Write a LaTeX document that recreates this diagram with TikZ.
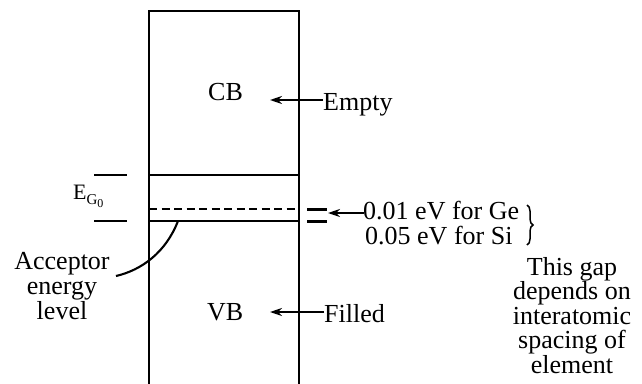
\documentclass[tikz,border=0pt]{standalone}
\usepackage{fontspec}
\setmainfont{Liberation Serif}
\usetikzlibrary{arrows.meta,decorations.pathreplacing}
\begin{document}
\begin{tikzpicture}[x=1pt,y=1pt,
  band/.style={line width=2.1pt, line cap=rect},
  edge/.style={line width=2.1pt},
  lbl/.style={inner sep=0pt, font=\fontsize{26}{24.5}\selectfont},
  arr/.style={line width=1.8pt, -{Stealth[length=12pt,width=8pt]}},
  gapmark/.style={line width=3pt},
  tick/.style={line width=2.3pt}]
\useasboundingbox (0,0) rectangle (642,-383);
% band box
\coordinate (bl) at (149,-383);
\coordinate (tl) at (149,-11);
\coordinate (tr) at (299,-11);
\coordinate (br) at (299,-383);
\draw[band] (bl) -- (tl) -- (tr) -- (br);
% band edges
\coordinate (cbl) at (149,-175); \coordinate (cbr) at (299,-175);
\coordinate (vbl) at (149,-221); \coordinate (vbr) at (299,-221);
\coordinate (acl) at (149,-209); \coordinate (acr) at (299,-209);
\draw[edge] (cbl) -- (cbr);
\draw[edge] (vbl) -- (vbr);
\draw[edge, dash pattern=on 8pt off 4.5pt] (acl) -- (acr);
% left ticks for E_G0
\coordinate (t1a) at (94,-175); \coordinate (t1b) at (127,-175);
\coordinate (t2a) at (94,-221); \coordinate (t2b) at (127,-221);
\draw[tick] (t1a) -- (t1b);
\draw[tick] (t2a) -- (t2b);
\node[inner sep=0pt, anchor=base west, font=\fontsize{22}{22}\selectfont] (eg) at (73,-199)
  {E\raisebox{-5pt}{\fontsize{15}{15}\selectfont G\raisebox{-3pt}{\fontsize{12}{12}\selectfont 0}}};
% right gap marks
\coordinate (m1a) at (307,-209); \coordinate (m1b) at (327,-209);
\coordinate (m2a) at (307,-221); \coordinate (m2b) at (327,-221);
\draw[gapmark] (m1a) -- (m1b);
\draw[gapmark] (m2a) -- (m2b);
% labels
\node[lbl, anchor=base west] (cb) at (208,-100) {CB};
\node[lbl, anchor=base west] (vb) at (207,-320) {VB};
\node[lbl, anchor=base west] (empty) at (323,-110) {Empty};
\node[lbl, anchor=base west] (filled) at (324,-322) {Filled};
\coordinate (e1) at (323,-100); \coordinate (e2) at (270,-100);
\draw[arr] (e1) -- (e2);
\coordinate (f1) at (324,-312); \coordinate (f2) at (270,-312);
\draw[arr] (f1) -- (f2);
\node[lbl, anchor=base west] (ge) at (363,-219) {0.01 eV for Ge};
\node[lbl, anchor=base west] (si) at (365,-244) {0.05 eV for Si};
\coordinate (g1) at (364,-213); \coordinate (g2) at (328,-213);
\draw[arr] (g1) -- (g2);
\coordinate (b1) at (527,-205); \coordinate (b2) at (527,-245);
\draw[line width=1.5pt, decorate, decoration={brace, amplitude=6pt}] (b1) -- (b2);
\node[lbl, anchor=north, align=center] (gap) at (572,-257)
  {This gap\\depends on\\interatomic\\spacing of\\element};
\node[lbl, anchor=north, align=center, font=\fontsize{26}{25}\selectfont] (acc) at (62,-252)
  {Acceptor\\energy\\level};
% acceptor pointer
\coordinate (c1) at (178,-221); \coordinate (c2) at (116,-276);
\draw[edge] (c1) .. controls (166,-252) and (142,-270) .. (c2);
\end{tikzpicture}
\end{document}
